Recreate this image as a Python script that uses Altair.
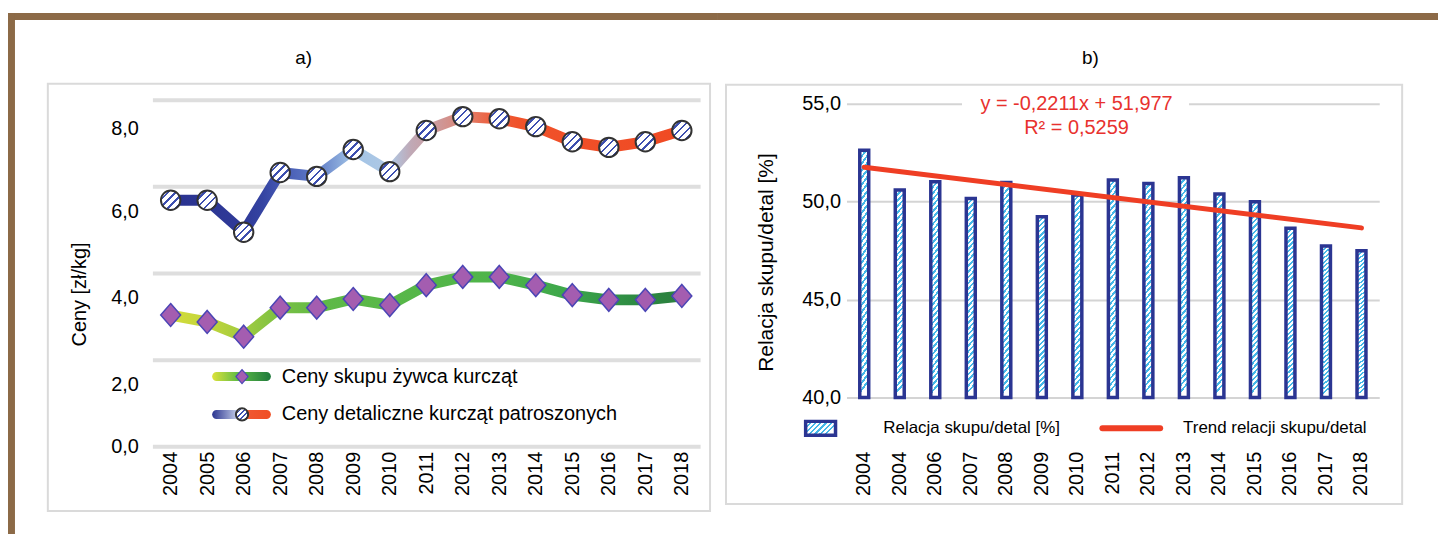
import altair as alt
import pandas as pd

# ---------------- data ----------------
years = ["2004", "2005", "2006", "2007", "2008", "2009", "2010", "2011",
         "2012", "2013", "2014", "2015", "2016", "2017", "2018"]
retail_prices = [5.68, 5.68, 4.94, 6.32, 6.23, 6.85, 6.34, 7.29,
                 7.61, 7.56, 7.38, 7.03, 6.90, 7.03, 7.29]
live_prices = [3.03, 2.87, 2.53, 3.20, 3.20, 3.40, 3.26, 3.72,
               3.91, 3.91, 3.72, 3.49, 3.38, 3.38, 3.47]

ratio_labels = ["2004", "2004", "2006", "2007", "2008", "2009", "2010", "2011",
                "2012", "2013", "2014", "2015", "2016", "2017", "2018"]
ratio_values = [52.62, 50.59, 51.01, 50.16, 50.98, 49.23, 50.34, 51.10,
                50.93, 51.22, 50.39, 50.00, 48.64, 47.74, 47.49]
trend_ends = [51.76, 48.66]

left_ticks = [0, 2, 4, 6, 8]
right_ticks = [40, 45, 50, 55]

FONT = "Liberation Sans"
BROWN = "#8C6A47"
NAVY = "#2B3592"


def grad(pairs, x2=1, y2=0):
    return alt.LinearGradient(
        gradient="linear",
        stops=[alt.GradientStop(offset=o, color=c) for o, c in pairs],
        x1=0, y1=0, x2=x2, y2=y2)


def stripes(c1, c2, n, frac, x2, y2):
    pairs = []
    for i in range(n):
        a, b, c = i / n, (i + frac) / n, (i + 1) / n
        pairs += [(a, c1), (b, c1), (b, c2), (c, c2)]
    return grad(pairs, x2, y2)


one = pd.DataFrame({"k": [0]})

# ---------------- panel a ----------------
W1, H1 = 550, 354
PX1 = 43.5
df1 = pd.DataFrame({"year": years, "retail": retail_prices, "live": live_prices})

xa = alt.X("year:O", title=None,
           scale=alt.Scale(type="point", padding=0.5),
           axis=alt.Axis(labelAngle=-90, labelFontSize=20, labelPadding=5,
                         domain=False, ticks=False, grid=False, labelColor="black"))
ya_scale = alt.Scale(domain=[0, H1 / PX1], nice=False, zero=True)
ya_axis = alt.Axis(values=left_ticks,
                   labelExpr="replace(format(datum.value, '.1f'), '.', ',')",
                   grid=True, gridColor="#DEDEDE", gridWidth=4,
                   domain=False, ticks=False, labelPadding=14, labelFontSize=20,
                   labelColor="black",
                   labelOffset={"condition": [{"test": "datum.value == 0", "value": 0},
                                              {"test": "datum.value == 8", "value": 29}],
                                "value": 25},
                   titleFontSize=20, titleFontWeight="normal", titleColor="black",
                   titleX=-73, titleY=201, titleAngle=-90,
                   titleAlign="center", titleBaseline="middle")
TITLE_A = "Ceny [zł/kg]"

retail_grad = grad([(0, "#2A3390"), (0.143, "#2F3A98"), (0.18, "#3544A2"),
                    (0.214, "#4457B2"), (0.286, "#5F7BC6"), (0.357, "#A2C4E6"),
                    (0.43, "#AFC8E4"), (0.47, "#C0A9B6"), (0.52, "#CC9A9C"),
                    (0.571, "#DC8677"), (0.62, "#EC6444"), (0.68, "#F0522A"),
                    (1, "#F04A23")])
live_grad = grad([(0, "#D3DC3A"), (0.07, "#C3D63C"), (0.14, "#A3CC3F"),
                  (0.21, "#7CC143"), (0.30, "#5EB947"), (0.64, "#4EB44A"),
                  (0.78, "#3CA64B"), (0.90, "#2E8C43"), (1, "#2A7E3E")])
circle_hatch = stripes("#3D4FB0", "#FFFFFF", 5, 0.32, 1, 1)

box_a = alt.Chart(one).mark_rect(fill="white", fillOpacity=0, stroke="#DADADA", strokeWidth=2).encode(
    x=alt.value(-105), x2=alt.value(560), y=alt.value(-10), y2=alt.value(419))
frame_top_a = alt.Chart(one).mark_rect(fill=BROWN).encode(
    x=alt.value(-145), x2=alt.value(567), y=alt.value(-81), y2=alt.value(-74))
frame_left = alt.Chart(one).mark_rect(fill=BROWN).encode(
    x=alt.value(-145), x2=alt.value(-138), y=alt.value(-81), y2=alt.value(445))
title_a = alt.Chart(one).mark_text(text="a)", fontSize=19, align="center", baseline="middle",
                                   color="black").encode(x=alt.value(152), y=alt.value(-36))

live_line = alt.Chart(df1).mark_line(stroke=live_grad, strokeWidth=11, strokeCap="round",
                                     strokeJoin="round").encode(
    x=xa, y=alt.Y("live:Q", scale=ya_scale, axis=ya_axis, title=TITLE_A))
retail_line = alt.Chart(df1).mark_line(stroke=retail_grad, strokeWidth=11, strokeCap="round",
                                       strokeJoin="round").encode(
    x=xa, y=alt.Y("retail:Q", scale=ya_scale, axis=ya_axis, title=TITLE_A))
live_pts = alt.Chart(df1).mark_point(shape="M0,-1.15L1,0L0,1.15L-1,0Z", size=400, filled=True,
                                     fill="#A45DB0", stroke="#4B45B5", strokeWidth=1.5,
                                     opacity=1).encode(
    x=xa, y=alt.Y("live:Q", scale=ya_scale, axis=ya_axis, title=TITLE_A))
retail_pts = alt.Chart(df1).mark_point(shape="circle", size=380, filled=True, fill=circle_hatch,
                                       stroke="#333333", strokeWidth=2, opacity=1).encode(
    x=xa, y=alt.Y("retail:Q", scale=ya_scale, axis=ya_axis, title=TITLE_A))

leg1_grad = grad([(0, "#DDE23A"), (0.45, "#5DBB46"), (1, "#1F7A3C")])
leg2_grad = grad([(0, "#2B3590"), (0.45, "#C9D3EC"), (0.5, "#F05A35"), (1, "#F04E23")])
leg1_bar = alt.Chart(one).mark_rect(fill=leg1_grad, cornerRadius=4.5).encode(
    x=alt.value(60), x2=alt.value(119), y=alt.value(279.5), y2=alt.value(288.5))
leg2_bar = alt.Chart(one).mark_rect(fill=leg2_grad, cornerRadius=4.5).encode(
    x=alt.value(60), x2=alt.value(119), y=alt.value(317.5), y2=alt.value(326.5))
leg1_mk = alt.Chart(one).mark_point(shape="M0,-1.15L1,0L0,1.15L-1,0Z", size=150, filled=True,
                                    fill="#A45DB0", stroke="#4B45B5", strokeWidth=1.2,
                                    opacity=1).encode(x=alt.value(90), y=alt.value(284))
leg2_mk = alt.Chart(one).mark_point(shape="circle", size=150, filled=True, fill=circle_hatch,
                                    stroke="#333333", strokeWidth=2, opacity=1).encode(
    x=alt.value(90), y=alt.value(322))
leg1_tx = alt.Chart(one).mark_text(text="Ceny skupu żywca kurcząt", fontSize=20, align="left",
                                   baseline="middle", color="black").encode(
    x=alt.value(130), y=alt.value(284))
leg2_tx = alt.Chart(one).mark_text(text="Ceny detaliczne kurcząt patroszonych", fontSize=20,
                                   align="left", baseline="middle", color="black").encode(
    x=alt.value(130), y=alt.value(322))

left = alt.layer(box_a, frame_top_a, frame_left, title_a, live_line, retail_line,
                 live_pts, retail_pts, leg1_bar, leg2_bar, leg1_mk, leg2_mk,
                 leg1_tx, leg2_tx).properties(width=W1, height=H1)

# ---------------- panel b ----------------
W2, H2 = 535, 305
PX2 = 295 / 15.0
df2 = pd.DataFrame({"pos": list(range(len(ratio_values))), "ratio": ratio_values})
df_tr = pd.DataFrame({"pos": [0, len(ratio_values) - 1], "trend": trend_ends})

labels_js = "[" + ",".join("'" + s + "'" for s in ratio_labels) + "]"
xb = alt.X("pos:O", title=None,
           scale=alt.Scale(type="band", paddingInner=0.748, paddingOuter=0.374),
           axis=alt.Axis(labelExpr=labels_js + "[datum.value]", labelAngle=-90,
                         labelPadding=54, labelFontSize=20, labelColor="black",
                         domain=False, ticks=False, grid=False))
yb_scale = alt.Scale(domain=[40, 40 + H2 / PX2], nice=False, zero=False)
yb_axis = alt.Axis(values=right_ticks,
                   labelExpr="replace(format(datum.value, '.1f'), '.', ',')",
                   grid=True, gridColor="#D4D4D4", gridWidth=2,
                   domain=False, ticks=False, labelPadding=6, labelFontSize=20,
                   labelColor="black",
                   titleFontSize=21, titleFontWeight="normal", titleColor="black",
                   titleX=-80, titleY=169, titleAngle=-90,
                   titleAlign="center", titleBaseline="middle")
TITLE_B = "Relacja skupu/detal [%]"

bar_hatch = stripes("#45B8E8", "#FFFFFF", 35, 0.45, 0.05, 1)
leg_hatch = stripes("#45B8E8", "#FFFFFF", 7, 0.45, 1, 0.47)

box_b = alt.Chart(one).mark_rect(fill="white", fillOpacity=0, stroke="#DADADA", strokeWidth=2).encode(
    x=alt.value(-121), x2=alt.value(558), y=alt.value(-9), y2=alt.value(412))
frame_top_b = alt.Chart(one).mark_rect(fill=BROWN).encode(
    x=alt.value(-130), x2=alt.value(594), y=alt.value(-81), y2=alt.value(-74))
title_b = alt.Chart(one).mark_text(text="b)", fontSize=19, align="center", baseline="middle",
                                   color="black").encode(x=alt.value(245), y=alt.value(-36))

bars = alt.Chart(df2).mark_bar(fill=bar_hatch, stroke=NAVY, strokeWidth=3.5).encode(
    x=xb, y=alt.Y("ratio:Q", scale=yb_scale, axis=yb_axis, title=TITLE_B), y2=alt.datum(40))
trend = alt.Chart(df_tr).mark_line(color="#EF3E24", strokeWidth=5, strokeCap="round").encode(
    x=xb, y=alt.Y("trend:Q", scale=yb_scale, axis=yb_axis, title=TITLE_B))

eq_bg = alt.Chart(one).mark_rect(fill="white").encode(
    x=alt.value(116), x2=alt.value(344), y=alt.value(2), y2=alt.value(18))
eq1 = alt.Chart(one).mark_text(text="y = -0,2211x + 51,977", fontSize=20, align="center",
                               baseline="middle", color="#E8312E").encode(
    x=alt.value(231), y=alt.value(10))
eq2 = alt.Chart(one).mark_text(text="R² = 0,5259", fontSize=20, align="center",
                               baseline="middle", color="#E8312E").encode(
    x=alt.value(231), y=alt.value(34))

legb_sym = alt.Chart(one).mark_rect(fill=leg_hatch, stroke=NAVY, strokeWidth=3.5).encode(
    x=alt.value(-41), x2=alt.value(-11), y=alt.value(329), y2=alt.value(343))
legb_tx1 = alt.Chart(one).mark_text(text="Relacja skupu/detal [%]", fontSize=17,
                                    align="left", baseline="middle", color="black").encode(
    x=alt.value(37), y=alt.value(336))
legb_rule = alt.Chart(one).mark_rule(color="#EF3E24", strokeWidth=6, strokeCap="round").encode(
    x=alt.value(257), x2=alt.value(315), y=alt.value(336))
legb_tx2 = alt.Chart(one).mark_text(text="Trend relacji skupu/detal", fontSize=17,
                                    align="left", baseline="middle", color="black").encode(
    x=alt.value(338), y=alt.value(336))

right = alt.layer(box_b, frame_top_b, title_b, eq_bg, bars, trend, eq1, eq2,
                  legb_sym, legb_tx1, legb_rule, legb_tx2).properties(width=W2, height=H2)

chart = alt.hconcat(left, right, spacing=0).properties(
    padding={"left": 0, "top": 4, "right": 0, "bottom": 0}
).configure(font=FONT).configure_view(stroke=None)

chart.save("out.html", embed_options={"renderer": "svg", "actions": False})
